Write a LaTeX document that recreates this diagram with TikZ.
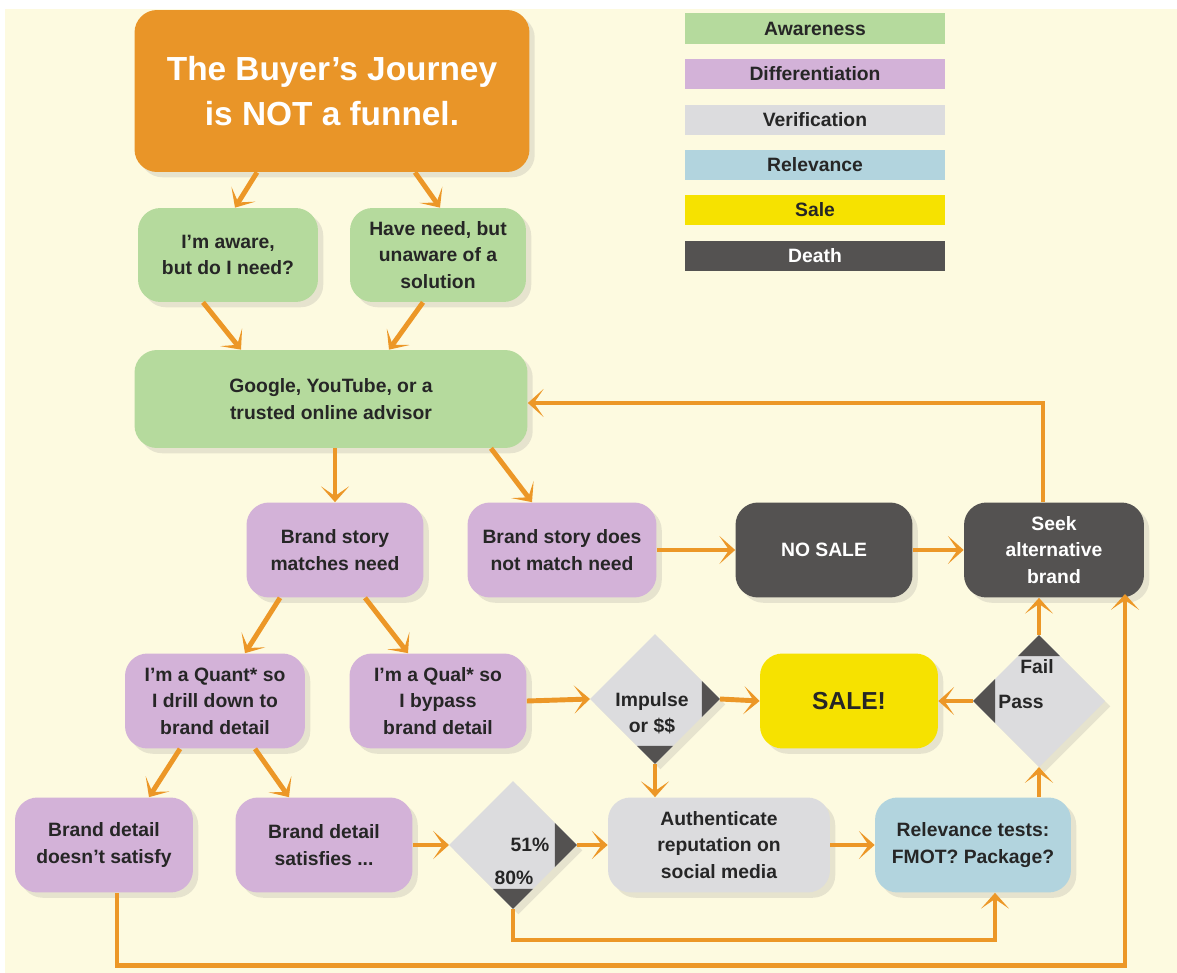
\documentclass[tikz,border=0pt]{standalone}
\usepackage{fontspec}
\setmainfont{Liberation Sans}
\usepackage{xcolor}
\usetikzlibrary{arrows.meta,shapes.geometric,shadows}

\definecolor{bgcream}{RGB}{253,250,224}
\definecolor{titleorange}{RGB}{233,149,40}
\definecolor{flowc}{RGB}{236,151,39}
\definecolor{awarec}{RGB}{181,218,157}
\definecolor{diffc}{RGB}{211,178,216}
\definecolor{verifc}{RGB}{220,220,222}
\definecolor{relevc}{RGB}{178,212,222}
\definecolor{salec}{RGB}{246,226,0}
\definecolor{deathc}{RGB}{84,82,81}

\begin{document}
\begin{tikzpicture}[
    x=0.02cm, y=-0.02cm,
    font=\fontsize{11}{15}\selectfont\bfseries,
    card/.style={rectangle, rounded corners=0.45cm, align=center, text=black!85, inner sep=2pt, minimum height=1.9cm, drop shadow={opacity=0.18, shadow xshift=3pt, shadow yshift=-3pt}},
    awarebox/.style={card, fill=awarec},
    diffbox/.style={card, fill=diffc},
    verifbox/.style={card, fill=verifc},
    relevbox/.style={card, fill=relevc},
    deathbox/.style={card, fill=deathc, text=white},
    salebox/.style={card, fill=salec},
    gate/.style={diamond, aspect=1, fill=verifc, inner sep=0pt, outer sep=0pt, drop shadow={opacity=0.18, shadow xshift=3pt, shadow yshift=-3pt}},
    legbar/.style={rectangle, minimum width=5.2cm, minimum height=0.62cm, inner sep=0pt, text=black!85},
    flow/.style={draw=flowc, line width=2.8pt, -{Stealth[length=9pt,width=16pt,inset=5.5pt,line width=1.8pt]}}
]
    % Background
    \useasboundingbox (0,0) rectangle (1177,973);
    \fill[white] (0,0) rectangle (1177,973);
    \fill[bgcream] (5,9) rectangle (1177,973);

    % Legend
    \node[legbar, fill=awarec] (lgaware) at (815,29) {Awareness};
    \node[legbar, fill=diffc] (lgdiff) at (815,74) {Differentiation};
    \node[legbar, fill=verifc] (lgverif) at (815,120) {Verification};
    \node[legbar, fill=relevc] (lgrelev) at (815,165) {Relevance};
    \node[legbar, fill=salec] (lgsale) at (815,210) {Sale};
    \node[legbar, fill=deathc, text=white] (lgdeath) at (815,256) {Death};

    % Boxes
    \node[card, fill=titleorange, text=white, minimum width=7.9cm, minimum height=3.24cm, font=\fontsize{19}{25.5}\selectfont\bfseries] (title) at (332,91) {The Buyer’s Journey\\ is NOT a funnel.};
    \node[awarebox, minimum width=3.6cm, minimum height=1.88cm] (aware) at (228,255) {I’m aware,\\ but do I need?};
    \node[awarebox, minimum width=3.52cm, minimum height=1.88cm] (haveneed) at (438,255) {Have need, but\\ unaware of a\\ solution};
    \node[awarebox, minimum width=7.86cm, minimum height=1.96cm] (google) at (331,399) {Google, YouTube, or a\\ trusted online advisor};
    \node[diffbox, minimum width=3.54cm] (match) at (335,550) {Brand story\\ matches need};
    \node[diffbox, minimum width=3.78cm] (nomatch) at (562,550) {Brand story does\\ not match need};
    \node[deathbox, minimum width=3.54cm] (nosale) at (824,550) {NO SALE};
    \node[deathbox, minimum width=3.6cm] (seek) at (1054,550) {Seek\\ alternative\\ brand};
    \node[diffbox, minimum width=3.6cm] (quant) at (215,701) {I’m a Quant* so\\ I drill down to\\ brand detail};
    \node[diffbox, minimum width=3.54cm] (qual) at (438,701) {I’m a Qual* so\\ I bypass\\ brand detail};
    \node[salebox, minimum width=3.56cm, font=\fontsize{14}{17}\selectfont\bfseries] (sale) at (849,701) {SALE!};
    \node[diffbox, minimum width=3.56cm] (detailno) at (104,845) {Brand detail\\ doesn’t satisfy};
    \node[diffbox, minimum width=3.54cm] (detailyes) at (324,845) {Brand detail\\ satisfies ...};
    \node[verifbox, minimum width=4.44cm] (auth) at (719,845) {Authenticate\\ reputation on\\ social media};
    \node[relevbox, minimum width=3.92cm] (relev) at (973,845) {Relevance tests:\\ FMOT? Package?};

    % Decision diamonds
    \node[gate, minimum width=2.6cm, minimum height=2.6cm] (imp) at (655,699) {};
    \fill[deathc] (imp.east) -- ++(-18,-18) -- ++(0,36) -- cycle;
    \fill[deathc] (imp.south) -- ++(-18,-18) -- ++(36,0) -- cycle;
    \node[align=center, text=black!85] (impt) at (652,713) {Impulse\\ or \$\$};

    \node[gate, minimum width=2.56cm, minimum height=2.56cm] (pct) at (513,845) {};
    \fill[deathc] (pct.east) -- ++(-22,-22) -- ++(0,44) -- cycle;
    \fill[deathc] (pct.south) -- ++(-20,-20) -- ++(40,0) -- cycle;
    \node[text=black!85] (pcta) at (530,845) {51\%};
    \node[text=black!85] (pctb) at (514,878) {80\%};

    \node[gate, minimum width=2.64cm, minimum height=2.64cm] (pf) at (1039,701) {};
    \fill[deathc] (pf.north) -- ++(-21,21) -- ++(42,0) -- cycle;
    \fill[deathc] (pf.west) -- ++(22,-22) -- ++(0,44) -- cycle;
    \node[text=black!85] (pff) at (1037,667) {Fail};
    \node[text=black!85] (pfp) at (1021,702) {Pass};

    \coordinate (seekin) at (1125,594);

    % Connections
    \draw[flow] ([xshift=-1.5cm]title.south) -- ([xshift=0.14cm]aware.north);
    \draw[flow] ([xshift=1.66cm]title.south) -- ([xshift=0.04cm]haveneed.north);
    \draw[flow] ([xshift=-0.5cm]aware.south) -- ([xshift=-1.8cm]google.north);
    \draw[flow] ([xshift=-0.3cm]haveneed.south) -- ([xshift=1.16cm]google.north);
    \draw[flow] (match.north |- google.south) -- (match.north);
    \draw[flow] ([xshift=3.2cm]google.south) -- ([xshift=-0.6cm]nomatch.north);
    \draw[flow] (nomatch.east) -- (nosale.west);
    \draw[flow] (nosale.east) -- (seek.west);
    \draw[flow] ([xshift=-0.22cm]seek.north) |- ([yshift=-0.08cm]google.east);
    \draw[flow] ([xshift=-1.1cm]match.south) -- ([xshift=0.6cm]quant.north);
    \draw[flow] ([xshift=0.6cm]match.south) -- ([xshift=-0.6cm]qual.north);
    \draw[flow] (qual.east) -- (imp.west);
    \draw[flow] (imp.east) -- (sale.west);
    \draw[flow] (imp.south) -- (imp.south |- auth.north);
    \draw[flow] (pf.west) -- (sale.east);
    \draw[flow] (pf.north) -- (pf.north |- seek.south);
    \draw[flow] (pf.south |- relev.north) -- (pf.south);
    \draw[flow] ([xshift=-0.7cm]quant.south) -- ([xshift=0.9cm]detailno.north);
    \draw[flow] ([xshift=0.8cm]quant.south) -- ([xshift=-0.7cm]detailyes.north);
    \draw[flow] (detailyes.east) -- (pct.west);
    \draw[flow] (pct.east) -- (auth.west);
    \draw[flow] (auth.east) -- (relev.west);

    % Return loops along the bottom
    \draw[flow] (pct.south) -- ++(0,31) -| ([xshift=0.44cm]relev.south);
    \draw[flow] ([xshift=0.26cm]detailno.south) -- ++(0,73) -| (seekin);
\end{tikzpicture}
\end{document}
